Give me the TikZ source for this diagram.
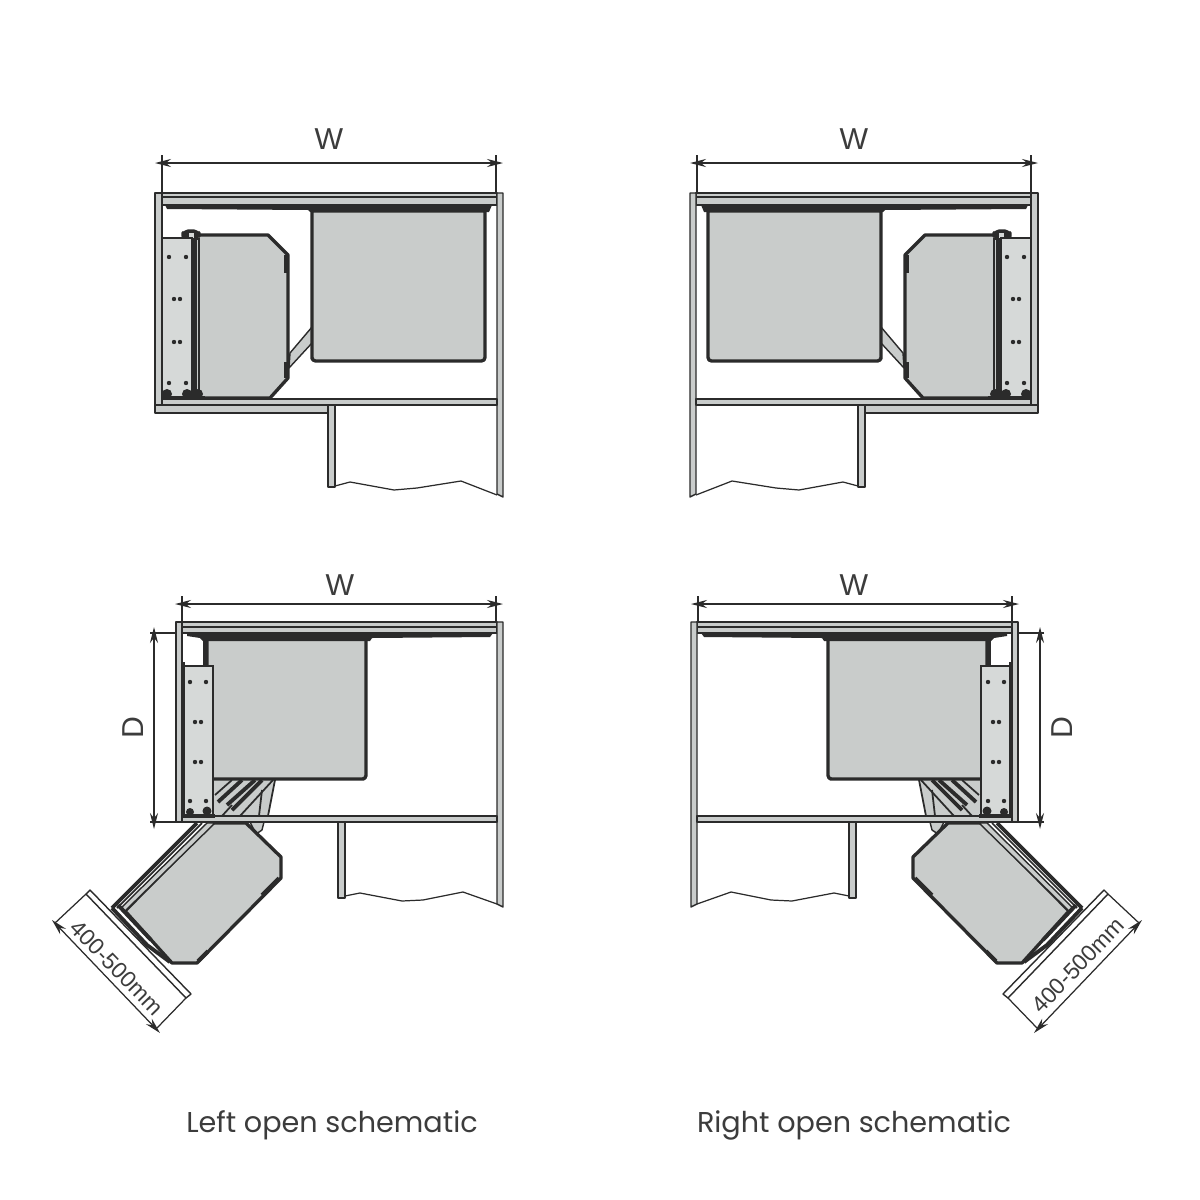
\documentclass[tikz,border=0pt]{standalone}
\usepackage{fontspec}
\usepackage{xcolor}
\usetikzlibrary{arrows.meta}
\setmainfont{Liberation Sans}
\newfontfamily\captionfont{Poppins}
\definecolor{panelgray}{HTML}{C9CCCB}
\definecolor{plategray}{HTML}{D6D9D8}
\definecolor{linedark}{HTML}{2B2B2B}
\definecolor{textdark}{HTML}{3C3C3C}
\tikzset{
    panel/.style={draw=linedark,fill=panelgray,line width=0.4pt,line join=round},
    basket/.style={draw=linedark,fill=panelgray,line width=0.95pt,line join=round},
    plate/.style={draw=linedark,fill=plategray,line width=0.6pt},
    rail/.style={draw=linedark,line width=1.1pt},
    link/.style={draw=linedark,line width=0.5pt},
    dimline/.style={draw=linedark,line width=0.35pt,{Stealth[length=1.6mm,width=0.8mm]}-{Stealth[length=1.6mm,width=0.8mm]}},
    extline/.style={draw=linedark,line width=0.35pt},
    dimlabel/.style={text=textdark,font=\fontsize{8.6}{10}\selectfont,inner sep=0pt},
    sizelabel/.style={text=textdark,font=\fontsize{6.5}{8}\selectfont,inner sep=0pt},
    capt/.style={text=textdark,font=\captionfont\fontsize{8.15}{10}\selectfont,inner sep=0pt}
}
\newcommand{\drawScrew}[2]{
    \fill[linedark] (#1,#2) circle (2.2)
}
% closed unit, seen from above
\newcommand{\drawClosedUnit}{
    \draw[dimline] (155,163) -- (503,163);
    \draw[extline] (162,155) -- (162,193);
    \draw[extline] (496,155) -- (496,193);
    % carcass
    \draw[panel] (155,193) rectangle (162,405);
    \draw[panel] (162,193) rectangle (497,197);
    \draw[panel] (162,197) rectangle (497,205);
    \draw[panel] (497,193) -- (503,193) -- (503,497) -- (497,494) -- cycle;
    \draw[panel] (162,399) rectangle (497,405);
    \draw[panel] (155,405) rectangle (328,413);
    \draw[panel] (328,405) rectangle (335,487);
    \draw[extline] (335,486) -- (350,482) -- (394,490) -- (417,488) -- (461,481) -- (497,495);
    \fill[linedark] (165,205) -- (492,205) -- (489,212) -- (310,212) -- (308,210) -- (167,209) -- cycle;
    % link arm
    \draw[panel] (290,353) -- (312,327) -- (312,343) -- (289,368) -- cycle;
    % fixed basket
    \draw[basket] (312,211) -- (312,359) [rounded corners=1] -- (312,361) -- (485,361) [sharp corners] -- (485,211) -- cycle;
    % swung basket
    \draw[basket] (193,235) -- (268,235) -- (288,255) -- (288,378) -- (270,398) -- (193,398) -- cycle;
    \draw[rail] (286,255) -- (286,273);
    \draw[rail] (286,362) -- (286,378);
    \draw[basket,fill=linedark,rounded corners=1.5] (183,238) -- (183,231) -- (199,231) -- (199,238) -- cycle;
    \fill[plategray] (189,232.5) rectangle (194,238);
    \fill[linedark] (192,238) rectangle (200,398);
    \fill[panelgray] (197,240) rectangle (198,392);
    % side plate
    \draw[plate] (162,238) rectangle (192,398);
    \drawScrew{169}{257};
    \drawScrew{186}{257};
    \drawScrew{174}{299};
    \drawScrew{180}{299};
    \drawScrew{174}{342};
    \drawScrew{180}{342};
    \drawScrew{169}{383};
    \drawScrew{186}{383};
    \fill[linedark] (167,394) circle (5);
    \fill[linedark] (187,394) circle (5);
    \fill[linedark] (198,394) circle (5);
    \draw[linedark,line width=0.9pt] (162,398) -- (205,398);
}
% open unit, basket swung out
\newcommand{\drawOpenUnit}{
    \draw[dimline] (175,604) -- (503,604);
    \draw[extline] (182,596) -- (182,622);
    \draw[extline] (496,596) -- (496,622);
    \draw[dimline] (154,627) -- (154,829);
    \draw[extline] (150,633) -- (183,633);
    \draw[extline] (150,822) -- (176,822);
    % swung basket
    \draw[panel] (250,822) -- (264,822) -- (262,830) -- (256,834) -- cycle;
    \draw[basket] (125,911) -- (212,823) -- (246,823) -- (281,857) -- (281,878) -- (197,963) -- (172,963) -- cycle;
    \draw[rail] (262,895) -- (279,878);
    \draw[rail] (198,961) -- (208,951);
    \draw[panel] (122,907) -- (207,823) -- (215,823) -- (125,911) -- cycle;
    \draw[rail] (112,908) -- (197,823);
    \draw[link] (117,908) -- (202,823);
    \draw[rail] (112,908) -- (147,945) -- (170,962);
    \draw[rail] (118,905) -- (151,940);
    % size bar
    \draw[panel,fill=white] (90,890) -- (191,994) -- (186,998) -- (86,894) -- cycle;
    \draw[extline] (86,894) -- (55,923);
    \draw[extline] (186,998) -- (157,1028);
    \draw[dimline] (52,920) -- (160,1033);
    % mechanism
    \fill[panelgray] (213,780) -- (275,780) -- (268,816) -- (213,816) -- cycle;
    \draw[link] (275,780) -- (268,816);
    \draw[link] (262,790) -- (259,816);
    \draw[link] (215,795) -- (232,780);
    \draw[rail] (218,802) -- (242,780);
    \draw[rail] (227,805) -- (255,780);
    \draw[rail] (232,810) -- (262,780);
    \draw[link] (240,816) -- (273,780);
    \draw[link] (222,816) -- (232,805);
    % carcass
    \draw[panel] (176,622) rectangle (182,822);
    \draw[panel] (182,622) rectangle (497,627);
    \draw[panel] (182,627) rectangle (497,633);
    \draw[panel] (497,622) -- (503,622) -- (503,907) -- (497,904) -- cycle;
    \draw[panel] (182,816) rectangle (497,822);
    \draw[panel] (338,822) rectangle (345,898);
    \draw[extline] (345,896) -- (360,893) -- (402,901) -- (423,900) -- (463,892) -- (497,904);
    % fixed basket
    \fill[panelgray] (207,640) rectangle (366,779);
    \draw[basket,fill=none] (207,640) -- (207,779) -- (364,779) [rounded corners=1] -- (366,779) [sharp corners] -- (366,640);
    \fill[linedark] (187,633) -- (493,633) -- (490,637) -- (372,638) -- (370,641) -- (203,641) -- (200,638) -- (187,636) -- cycle;
    \draw[rail] (205,640) -- (205,666);
    % side plate
    \draw[rail] (183,662) -- (183,816) -- (215,816);
    \draw[plate] (184,666) rectangle (213,815);
    \drawScrew{190}{682};
    \drawScrew{206}{682};
    \drawScrew{195}{722};
    \drawScrew{201}{722};
    \drawScrew{195}{762};
    \drawScrew{201}{762};
    \drawScrew{190}{801};
    \drawScrew{206}{801};
    \fill[linedark] (190,812) circle (4);
    \fill[linedark] (207,811) circle (4.5);
}
\begin{document}
\begin{tikzpicture}[x=0.01cm,y=-0.01cm]
    \useasboundingbox (0,0) rectangle (1200,1200);
    \fill[white] (0,0) rectangle (1200,1200);

    \drawClosedUnit;
    \begin{scope}[shift={(1193,0)},xscale=-1]
        \drawClosedUnit;
    \end{scope}
    \drawOpenUnit;
    \begin{scope}[shift={(1194,0)},xscale=-1]
        \drawOpenUnit;
    \end{scope}

    \node[dimlabel] (topLeftW) at (329,139) {W};
    \node[dimlabel] (topRightW) at (854,139) {W};
    \node[dimlabel] (openLeftW) at (340,585) {W};
    \node[dimlabel] (openRightW) at (854,585) {W};
    \node[dimlabel,rotate=90] (openLeftD) at (133,728) {D};
    \node[dimlabel,rotate=90] (openRightD) at (1062,728) {D};
    \node[sizelabel,rotate=-46] (openLeftSize) at (117,968) {400-500mm};
    \node[sizelabel,rotate=46] (openRightSize) at (1078,965) {400-500mm};
    \node[capt] (leftCaption) at (332,1125) {Left open schematic};
    \node[capt] (rightCaption) at (854,1125) {Right open schematic};
\end{tikzpicture}
\end{document}
